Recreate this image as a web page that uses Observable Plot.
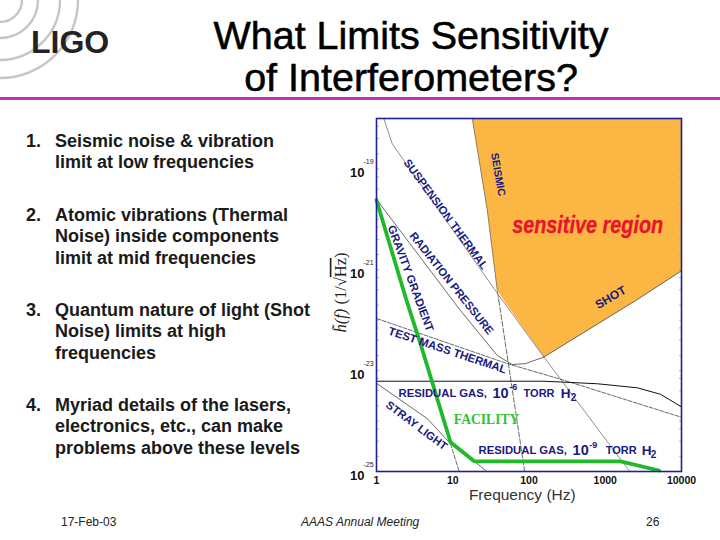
<!DOCTYPE html>
<html><head><meta charset="utf-8">
<script src="https://cdn.jsdelivr.net/npm/d3@7"></script>
<script src="https://cdn.jsdelivr.net/npm/@observablehq/plot@0.6"></script>
<style>
html,body{margin:0;padding:0;background:#fff;width:720px;height:540px;overflow:hidden}
body{position:relative;font-family:"Liberation Sans",Arial,sans-serif;color:#111}
#chart{position:absolute;left:0;top:0;width:720px;height:540px}
#chart svg{position:absolute;left:0;top:0;max-width:none}
#logo{position:absolute;left:0;top:0}
.t{position:absolute;white-space:nowrap}
#title{left:102px;width:618px;top:13.5px;text-align:center;font-size:39.5px;line-height:42px;-webkit-text-stroke:.55px #000;color:#000}
.item{font-weight:bold;font-size:18px;line-height:21.5px;color:#1a1a1a}
.num{left:26px}.body{left:55px}
.foot{top:515px;font-size:12px;color:#222}
#rule{position:absolute;left:0;top:96.5px;width:720px;height:3px;background:#c42fb4}
</style></head><body>
<svg id="logo" width="130" height="95" fill="none" stroke="#c6c6c6" stroke-width="2.4">
<circle cx="0" cy="0" r="22"/><circle cx="0" cy="0" r="38"/><circle cx="0" cy="0" r="60"/><circle cx="0" cy="0" r="78"/>
</svg>
<div class="t" style="left:31px;top:24px;font-weight:bold;font-size:32px;line-height:36px;color:#222">LIGO</div>
<div id="rule"></div>
<div id="title" class="t">What Limits Sensitivity<br>of Interferometers?</div>
<div id="chart"></div>
<div id="list"></div>
<div class="t foot" style="left:61px">17-Feb-03</div>
<div class="t foot" style="left:301px;font-style:italic">AAAS Annual Meeting</div>
<div class="t foot" style="left:646px">26</div>
<script>
// Bullet list
const listNumbers = ["1.","2.","3.","4."];
const listLines = [
  ["Seismic noise & vibration","limit at low frequencies"],
  ["Atomic vibrations (Thermal","Noise) inside components","limit at mid frequencies"],
  ["Quantum nature of light (Shot","Noise) limits at high","frequencies"],
  ["Myriad details of the lasers,","electronics, etc., can make","problems above these levels"]
];
const listTops = [130.5,204.5,299.5,394.5];

// Frequency (log10 Hz) and strain (log10 h)
const sensitiveF = [1.256,1.453,1.584,1.671,2.196,3.399,3.99,4,4];
const sensitiveH = [-18,-19.82,-21.41,-21.61,-22.73,-21.61,-21.03,-21.03,-18];

const facilityF = [0,0.394,0.577,0.971,1.286,3.202,3.705];
const facilityH = [-19.62,-21.61,-22.47,-24.42,-24.80,-24.80,-24.98];

const suspensionF = [0.096,0.206,0.358,1.605,2.196,3.311];
const suspensionH = [-18,-18.5,-18.83,-21.51,-22.73,-24.98];
const seismicF = [1.256,1.453,1.584,1.605];
const seismicH = [-18,-19.82,-21.41,-21.61];
const seismicLowF = [1.605,1.942];
const seismicLowH = [-21.61,-24.99];
const radiationF = [0.009,1.102,1.584,1.781,1.955,2.196,3.399,3.99];
const radiationH = [-19.62,-21.81,-22.70,-22.88,-22.86,-22.73,-21.61,-21.03];
const testMassF = [0.009,1.715,2.458,3.99];
const testMassH = [-21.97,-22.86,-23.19,-23.92];
const gasHighF = [0.009,2.196,2.896,3.42,3.727,3.99];
const gasHighH = [-23.21,-23.21,-23.26,-23.34,-23.47,-23.71];
const strayF = [0.009,0.665,0.971];
const strayH = [-23.26,-23.95,-24.45];
const strayLowF = [0.971,1.08];
const strayLowH = [-24.45,-24.98];
const gasLowF = [1.286,1.43];
const gasLowH = [-24.80,-24.98];

const xTicks = [1,10,100,1000,10000];
const yExponents = [-19,-21,-23,-25];

// In-chart labels
const labelText = ["SUSPENSION THERMAL","SEISMIC","SHOT","GRAVITY GRADIENT","RADIATION PRESSURE","TEST MASS THERMAL","STRAY LIGHT"];
const labelF = [0.906,1.594,3.071,0.446,0.984,0.932,0.525];
const labelH = [-19.90,-19.11,-21.55,-21.17,-21.27,-22.60,-24.09];
const labelAngle = [53.6,80,-30,69.5,51.5,18.6,37];
const labelSize = [11.4,10.6,12,11.4,11.3,11.4,11.2];

const gasText = ["RESIDUAL GAS,","10","-6","TORR","H","2","RESIDUAL GAS,","10","-9","TORR","H","2"];
const gasF = [0.289,1.522,1.74,1.929,2.415,2.546,1.339,2.572,2.79,3.005,3.478,3.596];
const gasH = [-23.45,-23.45,-23.33,-23.45,-23.45,-23.53,-24.58,-24.58,-24.48,-24.58,-24.58,-24.66];
const gasSize = [11.3,14.5,9,11,13.5,10,11.3,14.5,9,11,13.5,10];

const list = document.getElementById("list");
listNumbers.forEach((n,i)=>{
  const a=document.createElement("div");a.className="t item num";a.style.top=listTops[i]+"px";a.textContent=n;list.append(a);
  const b=document.createElement("div");b.className="t item body";b.style.top=listTops[i]+"px";b.innerHTML=listLines[i].map(s=>s.replace("&","&amp;")).join("<br>");list.append(b);
});

const pts = (F,H)=>F.map((f,i)=>({f:10**f,h:10**H[i]}));
const curve = (F,H,o)=>Plot.line(pts(F,H),{x:"f",y:"h",...o});
const thin = {stroke:"#444",strokeWidth:0.8};
const minor = d3.range(-25,-18).flatMap(e=>[1,2,4,7].map(m=>m*10**e)).concat([1e-18]);
const labels = labelText.map((t,i)=>({t,f:10**labelF[i],h:10**labelH[i],a:labelAngle[i],s:labelSize[i]}));
const gas = gasText.map((t,i)=>({t,f:10**gasF[i],h:10**gasH[i],s:gasSize[i]}));
const ink = "#1a1a80";
const noLabel = ()=>"";

const chart = Plot.plot({
  width:720,height:540,
  marginLeft:376,marginRight:39,marginTop:118,marginBottom:69,
  style:{background:"transparent",fontFamily:"Liberation Sans, Arial, sans-serif",overflow:"visible"},
  x:{type:"log",domain:[1,10000]},
  y:{type:"log",domain:[1e-25,1e-18]},
  marks:[
    curve(sensitiveF,sensitiveH,{fill:"#fcb644",stroke:"none"}),
    Plot.axisX({ticks:xTicks,tickSize:0,tickPadding:5,fontSize:10.5,fontWeight:"bold",tickFormat:d=>String(d),label:null,color:"#111"}),
    Plot.axisY({anchor:"left",ticks:minor,tickSize:-3,tickFormat:noLabel,label:null,stroke:"#999",strokeWidth:.7}),
    Plot.axisY({anchor:"right",ticks:minor,tickSize:-3,tickFormat:noLabel,label:null,stroke:"#999",strokeWidth:.7}),
    Plot.text(yExponents,{x:()=>1,y:e=>10**e,text:()=>"10",dx:-12,dy:4,textAnchor:"end",fontSize:13,fontWeight:"bold",fill:"#111"}),
    Plot.text(yExponents,{x:()=>1,y:e=>10**e,text:String,dx:-13,dy:-7,textAnchor:"start",fontSize:7,fill:"#222"}),
    Plot.text(["Frequency (Hz)"],{x:()=>10**1.912,y:()=>1e-25,dy:24,fontSize:15.5,fill:"#333",text:d=>d}),
    Plot.text(["yLabel"],{x:()=>1,y:()=>10**-21.45,dx:-36,rotate:-90,fontSize:16.5,fontFamily:"Liberation Serif",fill:"#222",text:()=>"h\u0303(f) (1/\u221AHz)"}),
    curve(seismicLowF,seismicLowH,{...thin,strokeDasharray:"5,2"}),
    curve(strayLowF,strayLowH,{...thin,strokeDasharray:"4,2"}),
    curve(suspensionF,suspensionH,{...thin,strokeWidth:.6}),
    curve(seismicF,seismicH,{...thin,strokeWidth:.6}),
    curve(radiationF,radiationH,thin),
    curve(testMassF,testMassH,{...thin,strokeDasharray:"4,1.5"}),
    curve(gasHighF,gasHighH,{stroke:"#111",strokeWidth:1}),
    curve(strayF,strayH,thin),
    curve(gasLowF,gasLowH,thin),
    curve(facilityF,facilityH,{stroke:"#20b92c",strokeWidth:3.8,strokeLinejoin:"round"}),
    Plot.text(labels,{x:"f",y:"h",text:"t",rotate:"a",fontSize:"s",fontWeight:"bold",fill:ink}),
    Plot.text(gas,{x:"f",y:"h",text:"t",fontSize:"s",fontWeight:"bold",fill:ink,textAnchor:"start"}),
    Plot.text(["FACILITY"],{x:()=>10**1.444,y:()=>10**-23.97,text:d=>d,fontSize:13.6,fontWeight:"bold",fontFamily:"Liberation Serif",fill:"#2fc23a"}),
    Plot.text(["sensitive region"],{x:()=>10**2.769,y:()=>10**-20.12,text:d=>d,fontSize:24,fontWeight:"bold",fontStyle:"italic",fill:"#e8132c",stroke:"#e8132c",strokeWidth:.3}),
    Plot.frame({stroke:"#20209a",strokeWidth:1.6})
  ]
});
const allText = d3.select(chart).selectAll("text");
allText.filter(function(){return this.textContent==="sensitive region"})
  .attr("textLength",151).attr("lengthAdjust","spacingAndGlyphs");
allText.filter(function(){return this.textContent.includes("\u221A")})
  .html('<tspan font-style="italic">h\u0303(f)</tspan> (1/\u221A<tspan style="text-decoration:overline">Hz</tspan>)');
document.getElementById("chart").append(chart);
</script>
</body></html>
